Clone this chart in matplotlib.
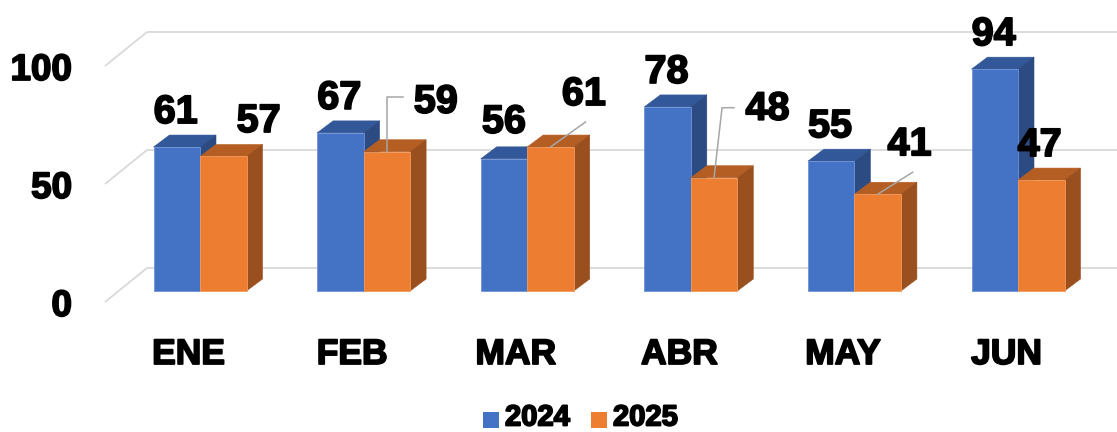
import matplotlib
matplotlib.use('Agg')
import matplotlib.pyplot as plt
from matplotlib.patches import Polygon, Rectangle
import matplotlib.patheffects as pe

# ---------------- data ----------------
categories = ['ENE', 'FEB', 'MAR', 'ABR', 'MAY', 'JUN']
series_names = ['2024', '2025']
values_2024 = [61, 67, 56, 78, 55, 94]
values_2025 = [57, 59, 61, 48, 41, 47]
y_ticks = [0, 50, 100]

# ---------------- layout / style ----------------
W, H, DPI = 1117, 432, 100
PXX = 163.6   # pixels per category step
PXV = 2.36    # pixels per value unit
X0 = 200.0    # pixel x of first group centre
Y0 = 291.0    # pixel y (from top) of value 0 at bar front

FONT = 'Liberation Sans'
STROKE = [pe.withStroke(linewidth=1.3, foreground='black')]

colors = {
    '2024': dict(front='#4472C4', top='#335899', side='#2c4b83', edge='#6f93d6'),
    '2025': dict(front='#ED7D31', top='#b55e23', side='#9a4f1e', edge='#f29a5c'),
}

fig = plt.figure(figsize=(W / DPI, H / DPI), dpi=DPI)
ax = fig.add_axes([0, 0, 1, 1])
ax.set_xlim(-X0 / PXX, (W - X0) / PXX)
ax.set_ylim(-(H - Y0) / PXV, Y0 / PXV)
ax.axis('off')


def dx(px):
    return px / PXX


def dv(py):
    # pixel offset (down positive) -> value offset
    return -py / PXV


def px2data(px, py):
    return dx(px - X0), (Y0 - py) / PXV


BAR_W = dx(46.5)
DEPTH_X = dx(16)
DEPTH_V = dv(-12)
BACK_V = dv(-23)      # back wall offset
FRONT_V = dv(11)      # front floor edge offset
SLANT_X0 = dx(105 - X0)
SLANT_X1 = dx(147 - X0)
XMAX = dx(W - X0)

# gridlines (3D wall)
for t in y_ticks:
    ax.plot([SLANT_X0, SLANT_X1, XMAX], [t + FRONT_V, t + BACK_V, t + BACK_V],
            color='#d9d9d9', lw=1.3, zorder=1, solid_capstyle='butt')
    ax.text(dx(72 - X0), t + FRONT_V + dv(14), str(t), ha='right', va='baseline',
            fontsize=26.5, fontweight='bold', family=FONT, path_effects=STROKE)


def bar3d(xl, h, c):
    w = BAR_W
    ax.add_patch(Polygon([(xl, h), (xl + DEPTH_X, h + DEPTH_V),
                          (xl + w + DEPTH_X, h + DEPTH_V), (xl + w, h)],
                         closed=True, fc=c['top'], ec=c['top'], lw=0.4, zorder=2))
    ax.add_patch(Polygon([(xl + w, 0), (xl + w + DEPTH_X, DEPTH_V),
                          (xl + w + DEPTH_X, h + DEPTH_V), (xl + w, h)],
                         closed=True, fc=c['side'], ec=c['side'], lw=0.4, zorder=2))
    ax.add_patch(Rectangle((xl, 0), w, h, fc=c['front'], ec=c['edge'], lw=0.6, zorder=2))


# label placement (pixel offsets from front-top centre of each bar)
default_off = (-1, -24)
label_off = {
    ('2025', 0): (35.5, -24.5),
    ('2025', 1): (49, -39),
    ('2025', 2): (33.5, -42),
    ('2025', 3): (53.5, -58),
    ('2025', 4): (32, -39),
    ('2025', 5): (-1.5, -24),
    ('2024', 2): (0, -26),
}
leaders = {
    ('2025', 1): [(0, 0), (0, -55), (16, -55)],
    ('2025', 2): [(0, 0), (35, -25)],
    ('2025', 3): [(0, 0), (8, -70), (20, -70)],
    ('2025', 4): [(0, 0), (35, -22)],
}

series = [('2024', values_2024, -1), ('2025', values_2025, 0)]
for i, cat in enumerate(categories):
    for name, vals, shift in series:
        xl = i + shift * BAR_W
        bar3d(xl, vals[i], colors[name])
    for name, vals, shift in series:
        xl = i + shift * BAR_W
        xc = xl + BAR_W / 2
        h = vals[i]
        if (name, i) in leaders:
            pts = leaders[(name, i)]
            ax.plot([xc + dx(p[0]) for p in pts], [h + dv(p[1]) for p in pts],
                    color='#a6a6a6', lw=1.1, zorder=3)
        ox, oy = label_off.get((name, i), default_off)
        ax.text(xc + dx(ox), h + dv(oy), str(h), ha='center', va='baseline',
                fontsize=28.5, fontweight='bold', family=FONT,
                path_effects=STROKE, zorder=4)
    ax.text(i + dx(-11.5), dv(364 - Y0), cat, ha='center', va='baseline',
            fontsize=25.5, fontweight='bold', family=FONT, path_effects=STROKE)

# legend
leg_items = [('2024', 483, 505), ('2025', 591, 613)]
for name, sq_x, tx_x in leg_items:
    x0, y0 = px2data(sq_x, 428)
    ax.add_patch(Rectangle((x0, y0), dx(16), 16 / PXV, fc=colors[name]['front'],
                           ec='none', zorder=2, clip_on=False))
    tx, ty = px2data(tx_x, 425.5)
    ax.text(tx, ty, name, ha='left', va='baseline', fontsize=21,
            fontweight='bold', family=FONT, path_effects=STROKE)

fig.savefig('out.png', dpi=DPI)
